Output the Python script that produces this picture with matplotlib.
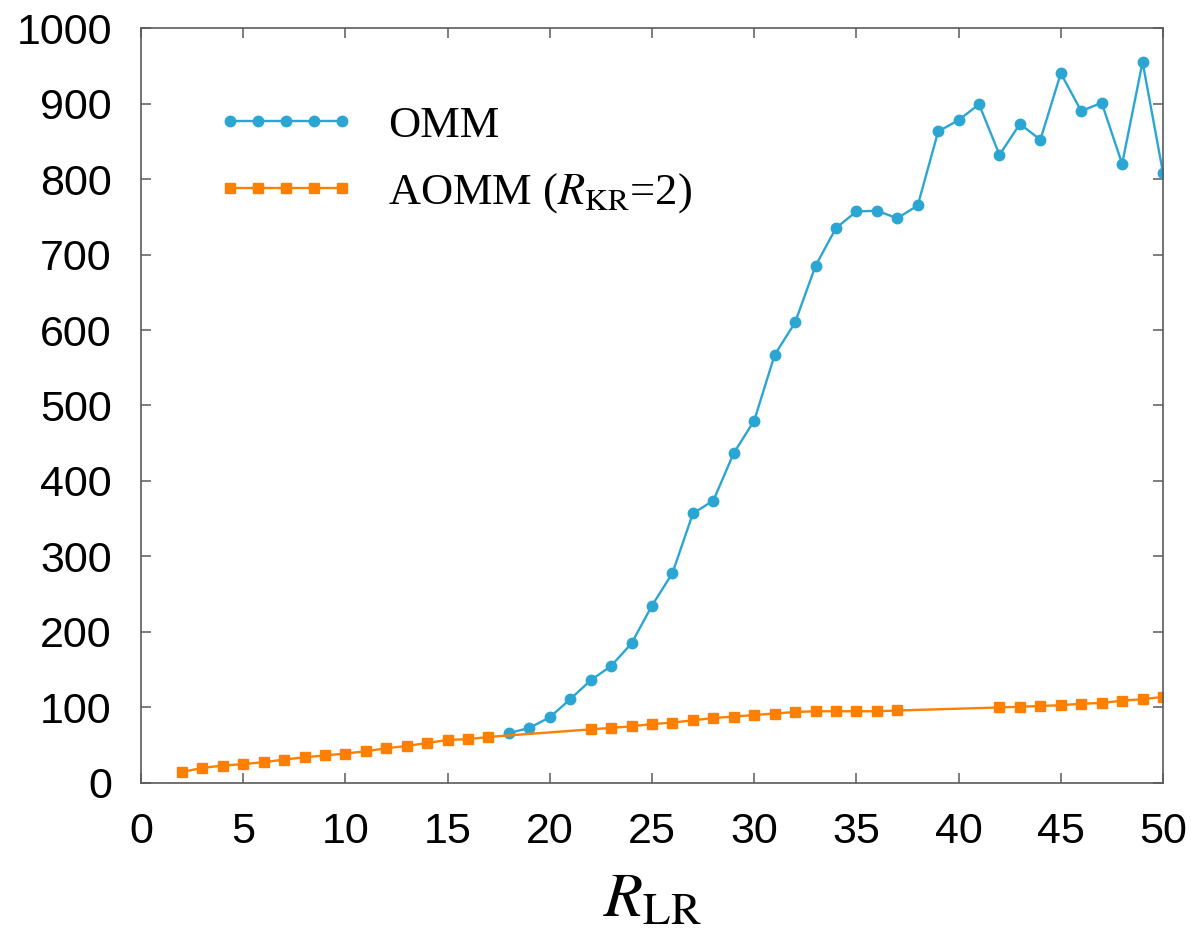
import matplotlib
matplotlib.use("Agg")
import matplotlib.pyplot as plt

# OMM: every R_LR from 18 to 50
omm_x = list(range(18, 51))
omm_y = [66, 73, 87, 111, 136, 155, 185, 235, 278, 357, 374, 437, 480, 567,
         610, 685, 735, 757, 758, 748, 765, 863, 878, 899, 832, 873, 852, 940,
         890, 901, 820, 955, 808]

# AOMM (R_KR=2): some R_LR values are missing in the source
aomm_x = list(range(2, 18)) + list(range(22, 38)) + list(range(42, 51))
aomm_y = [14.5, 20, 23, 25, 27.5, 31, 34, 36.5, 39, 42, 46, 49, 53, 57, 58, 61,
          71, 73, 75, 78, 80, 83, 86, 88, 90, 92, 94, 95, 95, 95, 95, 96,
          100, 101, 102, 103, 105, 106, 109, 111, 114]

x_ticks = list(range(0, 51, 5))
y_ticks = list(range(0, 1001, 100))

blue = "#2ba6d3"
orange = "#ff8000"
grey = "#5a5a5a"

plt.rcParams["mathtext.fontset"] = "stix"

fig = plt.figure(figsize=(11.91, 9.34), dpi=100)
ax = fig.add_axes([0.1184, 0.1617, 0.9765 - 0.1184, 0.970 - 0.1617])

ax.plot(omm_x, omm_y, color=blue, lw=1.7, marker="o", ms=7.5, label="OMM")
ax.plot(aomm_x, aomm_y, color=orange, lw=1.7, marker="s", ms=7.5,
        label=r"AOMM ($\mathit{R}_{\mathrm{KR}}$=2)")

ax.set_xlim(0, 50)
ax.set_ylim(0, 1000)
ax.set_xticks(x_ticks)
ax.set_yticks(y_ticks)

for s in ax.spines.values():
    s.set_color(grey)
    s.set_linewidth(1.2)

ax.tick_params(direction="in", top=True, right=True, length=7, width=1.1,
               color=grey, labelsize=31, pad=21)
for lab in ax.get_xticklabels() + ax.get_yticklabels():
    lab.set_family("Liberation Sans")

ax.set_xlabel(r"$\mathit{R}_{\mathrm{LR}}$", fontsize=46, labelpad=11)

leg = ax.legend(loc="upper left", bbox_to_anchor=(0.074, 0.897), frameon=False,
                numpoints=5, handlelength=3.12, handletextpad=0.73,
                labelspacing=0.56, borderpad=0, borderaxespad=0,
                prop={"family": "Liberation Serif", "size": 32})

fig.savefig("out.png", dpi=100)
